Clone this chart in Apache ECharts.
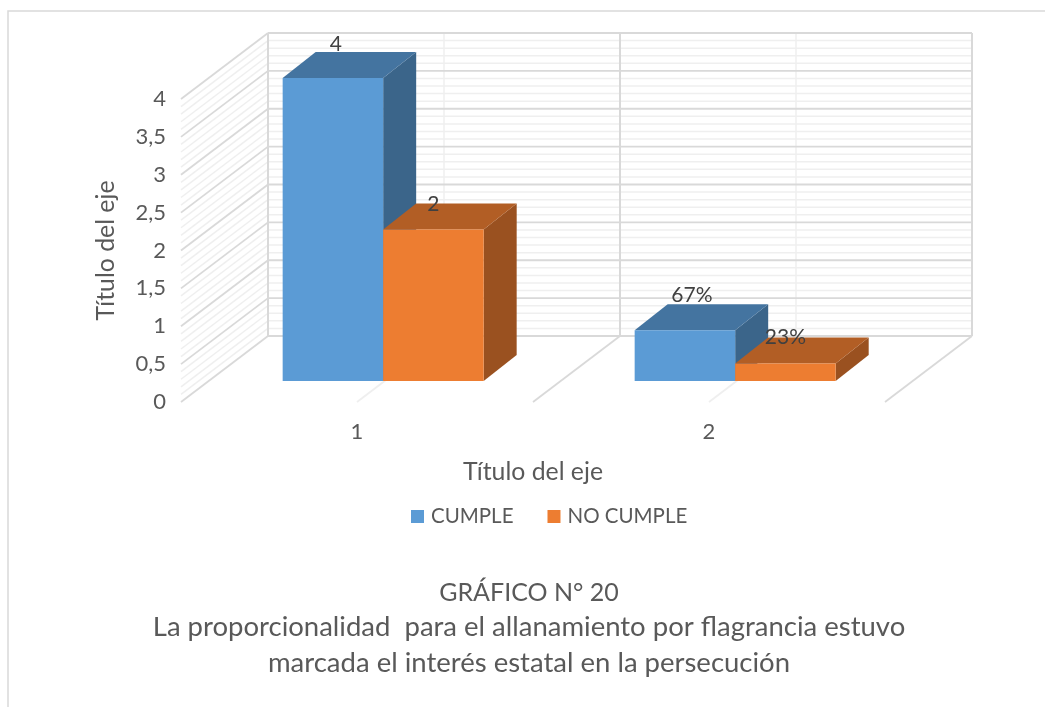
<!DOCTYPE html>
<html>
<head>
<meta charset="utf-8">
<style>html,body{margin:0;padding:0;background:#fff}#chart{width:1053px;height:707px}</style>
<script src="https://cdn.jsdelivr.net/npm/echarts@6/dist/echarts.min.js"></script>
</head>
<body>
<div id="chart"></div>
<script>
// Datos del gráfico
const categories = ['1', '2'];
const cumple = [4, 0.67];
const noCumple = [2, 0.23];
const cumpleLabels = ['4', '67%'];
const noCumpleLabels = ['2', '23%'];
const axisMax = 4;
const majorStep = 0.5;
const minorPerMajor = 5;

// Proyección oblicua de la caja 3D, en píxeles
const BOX_DEPTH = [87, -66];     // del plano frontal a la pared del fondo
const BAR_FRONT = 0.318;         // fracción de profundidad donde empieza la barra
const BAR_DEPTH = [33, -26];     // profundidad propia de la barra
const BAR_START = 74 / 352;      // hueco lateral como fracción de la banda
const BAR_WIDTH = 100.5 / 352;   // ancho de barra como fracción de la banda
const LABEL_NUDGE = {            // ajuste de las etiquetas respecto a la cara superior
  CUMPLE: [[3, -9], [7, -10]],
  'NO CUMPLE': [[0, 0], [0, -1]]
};

const C_MAJOR = '#d9d9d9', C_MINOR = '#efefef';
const TEXT = '#595959';

function shade(hex, k) {
  const n = parseInt(hex.slice(1), 16);
  const c = [n >> 16, (n >> 8) & 255, n & 255].map(v => Math.round(v * k));
  return 'rgb(' + c.join(',') + ')';
}

function line(p, q, color, width) {
  return {
    type: 'line', silent: true,
    shape: { x1: p[0], y1: p[1], x2: q[0], y2: q[1] },
    style: { stroke: color, lineWidth: width, fill: null }
  };
}

function poly(points, color) {
  return { type: 'polygon', silent: true, shape: { points }, style: { fill: color } };
}

const add = (p, d, k = 1) => [p[0] + d[0] * k, p[1] + d[1] * k];

// Paredes y suelo: una sola pasada que recorre las divisiones del eje de valores
function renderWalls(params, api) {
  const band = api.size([1, 0])[0];
  const kids = [];
  const stepsMinor = Math.round(axisMax / majorStep) * minorPerMajor;
  const frontAt = v => {
    const p = api.coord([0, v]);
    return [p[0] - band / 2, p[1]];
  };
  // líneas secundarias primero, principales encima
  for (const major of [false, true]) {
    for (let i = 0; i <= stepsMinor; i++) {
      const isMajor = i % minorPerMajor === 0;
      if (isMajor !== major) continue;
      const front = frontAt(axisMax * i / stepsMinor);
      const back = add(front, BOX_DEPTH);
      const right = [back[0] + band * categories.length, back[1]];
      const col = major ? C_MAJOR : C_MINOR;
      const w = major ? 1.8 : 1.5;
      kids.push(line(front, back, col, w));
      kids.push(line(back, right, col, w));
    }
    // divisiones verticales de la pared y diagonales del suelo
    for (let h = 0; h <= categories.length * 2; h++) {
      const isMajorDiv = h % 2 === 0;
      if (isMajorDiv !== major) continue;
      const f = frontAt(0);
      f[0] += band * h / 2;
      const b = add(f, BOX_DEPTH);
      const t = frontAt(axisMax);
      t[0] += band * h / 2;
      const col = major ? C_MAJOR : C_MINOR;
      if (h > 0) kids.push(line(f, b, col, 1.8));
      kids.push(line(b, add(t, BOX_DEPTH), col, major ? 2 : 1.5));
    }
  }
  return { type: 'group', children: kids };
}

function barRenderer(seriesIndex, color, labels, nudges) {
  return function (params, api) {
    const cat = api.value(0), val = api.value(1);
    const band = api.size([1, 0])[0];
    const base = add(api.coord([cat, 0]), BOX_DEPTH, BAR_FRONT);
    const top = add(api.coord([cat, val]), BOX_DEPTH, BAR_FRONT);
    const w = band * BAR_WIDTH;
    const x0 = base[0] - band / 2 + band * BAR_START + w * seriesIndex;
    const x1 = x0 + w;
    const yB = base[1], yT = top[1];
    const d = BAR_DEPTH;
    const nudge = nudges[params.dataIndex];
    return {
      type: 'group',
      children: [
        poly([[x1, yB], [x1 + d[0], yB + d[1]], [x1 + d[0], yT + d[1]], [x1, yT]], shade(color, 0.65)),
        poly([[x0, yT], [x1, yT], [x1 + d[0], yT + d[1]], [x0 + d[0], yT + d[1]]], shade(color, 0.75)),
        poly([[x0, yB], [x1, yB], [x1, yT], [x0, yT]], color),
        {
          type: 'text', silent: true, z2: 10,
          style: {
            x: (x0 + x1) / 2 + nudge[0], y: yT + d[1] + nudge[1] + 1,
            text: labels[params.dataIndex],
            fill: '#404040', font: '21px Lato, "Open Sans", sans-serif',
            align: 'center', verticalAlign: 'middle'
          }
        }
      ]
    };
  };
}

const chart = echarts.init(document.getElementById('chart'), null, { renderer: 'canvas' });
const FONT = 'Lato, "Open Sans", sans-serif';

chart.setOption({
  animation: false,
  backgroundColor: '#fff',
  grid: { left: 181, right: 168, top: 99, bottom: 305 },
  xAxis: {
    type: 'category', data: categories,
    axisLine: { show: false }, axisTick: { show: false },
    axisLabel: { color: TEXT, fontSize: 22, fontFamily: FONT, margin: 19 },
    name: 'Título del eje', nameLocation: 'middle', nameGap: 58,
    nameTextStyle: { color: TEXT, fontSize: 24.8, fontFamily: FONT }
  },
  yAxis: {
    type: 'value', min: 0, max: axisMax, interval: majorStep,
    axisLine: { show: false }, axisTick: { show: false }, splitLine: { show: false },
    axisLabel: {
      color: TEXT, fontSize: 22, fontFamily: FONT, margin: 15,
      formatter: v => String(v).replace('.', ',')
    },
    name: 'Título del eje', nameLocation: 'middle', nameGap: 62,
    nameTextStyle: { color: TEXT, fontSize: 24.8, fontFamily: FONT }
  },
  legend: {
    data: ['CUMPLE', 'NO CUMPLE'], left: 411, top: 506, padding: 0, icon: 'rect',
    itemWidth: 13, itemHeight: 13, itemGap: 34,
    textStyle: { color: TEXT, fontSize: 20.5, fontFamily: FONT, padding: [0, 0, 0, 2] }
  },
  title: {
    text: '{a|GRÁFICO N° 20}\n{b|La proporcionalidad  para el allanamiento por flagrancia estuvo}\n{b|marcada el interés estatal en la persecución}',
    left: 529, top: 576, padding: 0, textAlign: 'center',
    textStyle: {
      color: TEXT, fontWeight: 'normal', fontFamily: FONT, lineHeight: 36,
      rich: {
        a: { color: TEXT, fontSize: 25, fontFamily: FONT, lineHeight: 33 },
        b: { color: TEXT, fontSize: 27.5, fontFamily: FONT, lineHeight: 36 }
      }
    }
  },
  graphic: [
    { type: 'polyline', silent: true, shape: { points: [[8, 707], [8, 11], [1045, 11]] },
      style: { stroke: '#d9d9d9', lineWidth: 1.5, fill: null } }
  ],
  series: [
    { type: 'custom', name: 'paredes', coordinateSystem: 'cartesian2d', z: 1, silent: true,
      clip: false, renderItem: renderWalls, data: [[0, 0]], encode: { x: 0, y: 1 }, tooltip: { show: false } },
    { type: 'custom', name: 'CUMPLE', coordinateSystem: 'cartesian2d', z: 2, clip: false,
      itemStyle: { color: '#5b9bd5' },
      renderItem: barRenderer(0, '#5b9bd5', cumpleLabels, LABEL_NUDGE.CUMPLE),
      data: cumple.map((v, i) => [i, v]), encode: { x: 0, y: 1 } },
    { type: 'custom', name: 'NO CUMPLE', coordinateSystem: 'cartesian2d', z: 3, clip: false,
      itemStyle: { color: '#ed7d31' },
      renderItem: barRenderer(1, '#ed7d31', noCumpleLabels, LABEL_NUDGE['NO CUMPLE']),
      data: noCumple.map((v, i) => [i, v]), encode: { x: 0, y: 1 } }
  ]
});
</script>
</body>
</html>
